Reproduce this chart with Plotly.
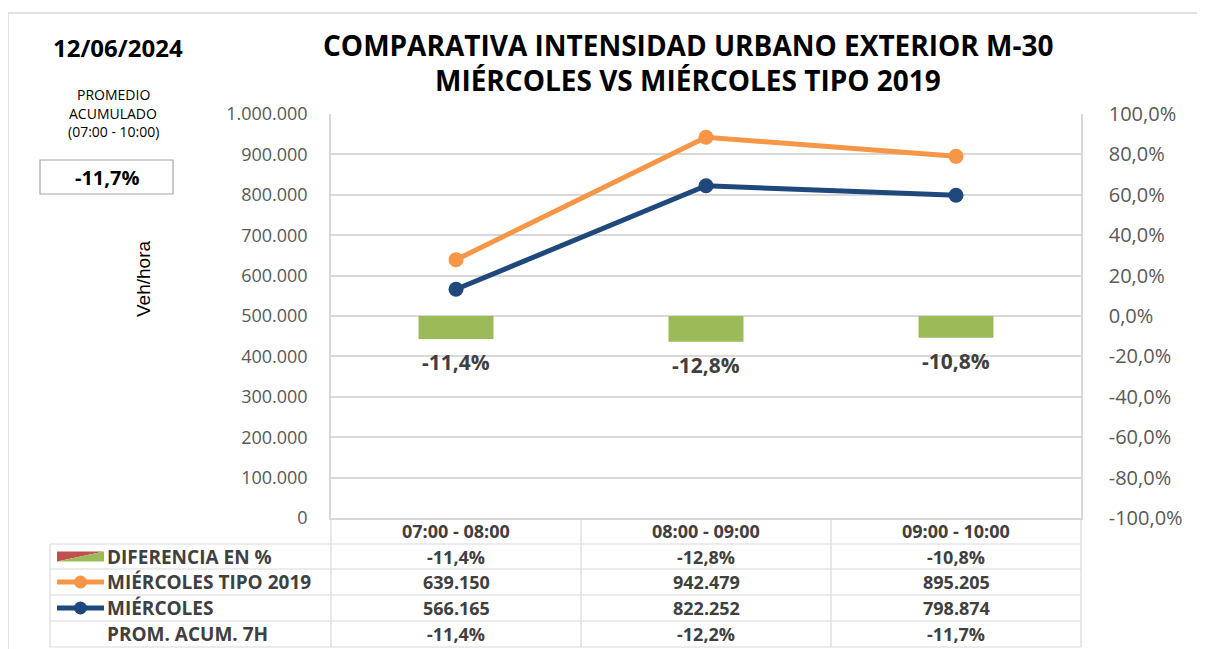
import plotly.graph_objects as go

# ---------------- data ----------------
categories = ["07:00 - 08:00", "08:00 - 09:00", "09:00 - 10:00"]
miercoles_tipo_2019 = [639150, 942479, 895205]
miercoles = [566165, 822252, 798874]
diferencia_pct = [-11.4, -12.8, -10.8]
prom_acum_7h = [-11.4, -12.2, -11.7]
fecha = "12/06/2024"
promedio_acumulado = -11.7
y1_ticks = [0, 100000, 200000, 300000, 400000, 500000, 600000, 700000, 800000, 900000, 1000000]
y2_ticks = [-100, -80, -60, -40, -20, 0, 20, 40, 60, 80, 100]

# ---------------- helpers (target pixel positions in the 1205x649 page) ----------------
OFF = 8  # default body margin of the html page
W, H = 1205 - OFF, 649 - OFF
L, R, T, B = 331, 1081, 114, 518


def px(x):
    return (x - L) / (R - L)


def py(y):
    return (B - y) / (B - T)


def fmt_int(v):
    return f"{v:,}".replace(",", ".")


def fmt_pct(v):
    return f"{v:.1f}%".replace(".", ",")


FONT = "Open Sans"
GRID = "#D9D9D9"
DARK = "#404040"
ORANGE = "#F79646"
BLUE = "#1F497D"
GREEN = "#9BBB59"
RED = "#C0504D"

fig = go.Figure()

fig.add_trace(go.Bar(
    x=categories, y=[v / 100 for v in diferencia_pct], yaxis="y2",
    marker=dict(color=GREEN, line=dict(width=0)), width=0.3,
    name="DIFERENCIA EN %", showlegend=False, hoverinfo="skip"))

fig.add_trace(go.Scatter(
    x=categories, y=miercoles_tipo_2019, mode="lines+markers",
    line=dict(color=ORANGE, width=5), marker=dict(size=15, color=ORANGE),
    name="MIÉRCOLES TIPO 2019", showlegend=False))

fig.add_trace(go.Scatter(
    x=categories, y=miercoles, mode="lines+markers",
    line=dict(color=BLUE, width=5), marker=dict(size=15, color=BLUE),
    name="MIÉRCOLES", showlegend=False))

annotations = []
shapes = []


def note(x, y, text, size, color="#000000", xanchor="center", family=FONT, **kw):
    annotations.append(dict(x=px(x), y=py(y), xref="paper", yref="paper", text=text,
                            showarrow=False, xanchor=xanchor, yanchor="middle",
                            font=dict(family=family, size=size, color=color), **kw))


# bar value labels
for c, v in zip(categories, diferencia_pct):
    annotations.append(dict(
        x=c, y=v / 100, xref="x", yref="y2", text=f"<b>{fmt_pct(v)}</b>",
        showarrow=False, xanchor="center", yanchor="top", yshift=-7,
        font=dict(family=FONT, size=21, color=DARK)))

# title (two lines)
note(688, 45, "<b>COMPARATIVA INTENSIDAD URBANO EXTERIOR M-30</b>", 28)
note(688, 80, "<b>MIÉRCOLES VS MIÉRCOLES TIPO 2019</b>", 28)

# date
note(118, 47, f"<b>{fecha}</b>", 24)

# promedio text
note(113, 95, "PROMEDIO", 14)
note(113, 113, "ACUMULADO", 14)
note(113, 131, "(07:00 - 10:00)", 14)

shapes.append(dict(type="rect", xref="paper", yref="paper",
                   x0=px(40), x1=px(173), y0=py(160), y1=py(194),
                   line=dict(color="#A6A6A6", width=1.2)))
note(107, 177, f"<b>{fmt_pct(promedio_acumulado)}</b>", 20)

# y axis title
note(143, 279, "Veh/hora", 19, family="Liberation Sans", textangle=-90)

# outer chart border
shapes.append(dict(type="rect", xref="paper", yref="paper",
                   x0=px(8), x1=px(1199), y0=py(670), y1=py(13),
                   line=dict(color=GRID, width=1.5)))

# ---------------- data table ----------------
col_edges = [331, 581, 831, 1081]
row_edges = [544, 569, 595, 621, 647]
line_style = dict(color=GRID, width=1.2)

for xe in col_edges:
    shapes.append(dict(type="line", xref="paper", yref="paper",
                       x0=px(xe), x1=px(xe), y0=py(518), y1=py(544), line=line_style))
for xe in [50] + col_edges:
    shapes.append(dict(type="line", xref="paper", yref="paper",
                       x0=px(xe), x1=px(xe), y0=py(544), y1=py(647), line=line_style))
for ye in row_edges:
    shapes.append(dict(type="line", xref="paper", yref="paper",
                       x0=px(50), x1=px(1081), y0=py(ye), y1=py(ye), line=line_style))

TBL = 18
for c in categories:
    annotations.append(dict(x=c, y=py(531), xref="x", yref="paper",
                            text=f"<b>{c}</b>", showarrow=False,
                            xanchor="center", yanchor="middle",
                            font=dict(family=FONT, size=TBL, color=DARK)))

row_labels = ["DIFERENCIA EN %", "MIÉRCOLES TIPO 2019", "MIÉRCOLES", "PROM. ACUM. 7H"]
row_values = [
    [fmt_pct(v) for v in diferencia_pct],
    [fmt_int(v) for v in miercoles_tipo_2019],
    [fmt_int(v) for v in miercoles],
    [fmt_pct(v) for v in prom_acum_7h],
]
row_centers = [(row_edges[i] + row_edges[i + 1]) / 2 for i in range(4)]

for lab, vals, yc in zip(row_labels, row_values, row_centers):
    note(105, yc, f"<b>{lab}</b>", 19, color=DARK, xanchor="left")
    for c, v in zip(categories, vals):
        annotations.append(dict(x=c, y=py(yc), xref="x", yref="paper",
                                text=f"<b>{v}</b>", showarrow=False,
                                xanchor="center", yanchor="middle",
                                font=dict(family=FONT, size=TBL, color=DARK)))

# legend keys in table
yc = row_centers[0]
shapes.append(dict(type="path", xref="paper", yref="paper",
                   path=f"M {px(57)},{py(yc-5)} L {px(104)},{py(yc-5)} L {px(57)},{py(yc+5)} Z",
                   fillcolor=RED, line=dict(width=0)))
shapes.append(dict(type="path", xref="paper", yref="paper",
                   path=f"M {px(57)},{py(yc+5)} L {px(104)},{py(yc-5)} L {px(104)},{py(yc+5)} Z",
                   fillcolor=GREEN, line=dict(width=0)))
for yc, col in [(row_centers[1], ORANGE), (row_centers[2], BLUE)]:
    shapes.append(dict(type="line", xref="paper", yref="paper",
                       x0=px(57), x1=px(104), y0=py(yc), y1=py(yc),
                       line=dict(color=col, width=5)))
    shapes.append(dict(type="circle", xref="paper", yref="paper",
                       x0=px(74), x1=px(87), y0=py(yc - 6.5), y1=py(yc + 6.5),
                       fillcolor=col, line=dict(width=0)))

fig.update_layout(
    width=W, height=H, autosize=False,
    margin=dict(l=L - OFF, r=W - (R - OFF), t=T - OFF, b=H - (B - OFF), pad=0),
    paper_bgcolor="white", plot_bgcolor="white",
    separators=",.",
    font=dict(family=FONT, color="#595959"),
    xaxis=dict(type="category", showticklabels=False, showgrid=False,
               showline=True, linecolor=GRID, linewidth=1.5, ticks="",
               range=[-0.5, 2.5], fixedrange=True),
    yaxis=dict(range=[0, 1000000], tickvals=y1_ticks,
               ticktext=[fmt_int(v) for v in y1_ticks],
               showgrid=True, gridcolor=GRID, gridwidth=1.5,
               showline=True, linecolor=GRID, linewidth=1.5,
               zeroline=False, ticks="", ticklabelstandoff=18,
               tickfont=dict(family=FONT, size=18, color="#595959")),
    yaxis2=dict(range=[-1, 1], overlaying="y", side="right",
                tickvals=[v / 100 for v in y2_ticks],
                ticktext=[fmt_pct(v) for v in y2_ticks],
                showgrid=False, zeroline=False,
                showline=True, linecolor=GRID, linewidth=1.5,
                ticks="", ticklabelstandoff=22,
                tickfont=dict(family=FONT, size=20, color="#595959")),
    annotations=annotations,
    shapes=shapes,
    showlegend=False,
)

fig.write_html("out.html")
